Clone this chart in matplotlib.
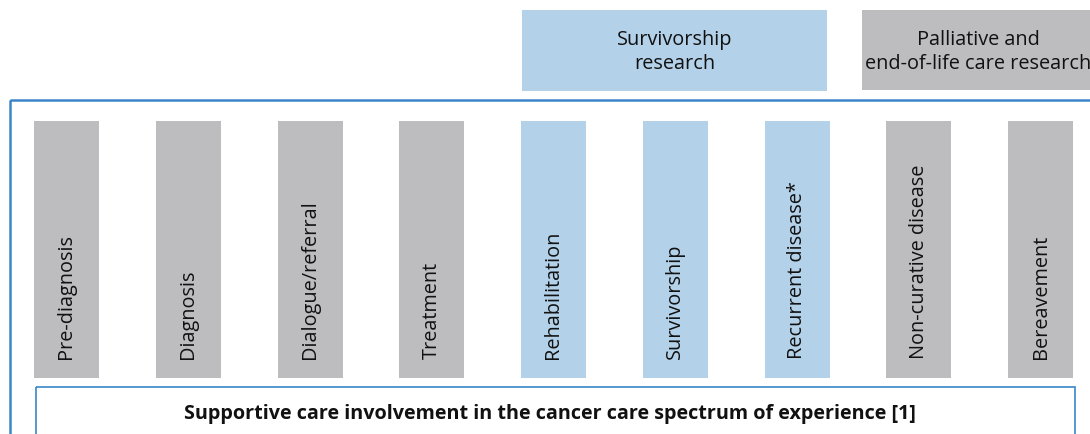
import matplotlib.pyplot as plt
from matplotlib.patches import Rectangle

plt.rcParams['font.family'] = ['Open Sans', 'DejaVu Sans']

# stages of the cancer care spectrum
stages = ['Pre-diagnosis', 'Diagnosis', 'Dialogue/referral', 'Treatment',
          'Rehabilitation', 'Survivorship', 'Recurrent disease*',
          'Non-curative disease', 'Bereavement']
stage_group = ['grey', 'grey', 'grey', 'grey', 'blue', 'blue', 'blue', 'grey', 'grey']
stage_height = [1, 1, 1, 1, 1, 1, 1, 1, 1]

# research areas above the stages
areas = ['Survivorship\nresearch', 'Palliative and\nend-of-life care research']
area_group = ['blue', 'grey']

footer = 'Supportive care involvement in the cancer care spectrum of experience [1]'

colors = {'grey': '#bdbdbf', 'blue': '#b3d1e9'}
frame_blue = '#3a86c8'

W, H = 1090, 435
fig = plt.figure(figsize=(W / 100, H / 100), dpi=100)
ax = fig.add_axes([0, 0, 1, 1])
ax.set_xlim(0, W)
ax.set_ylim(H, 0)
ax.axis('off')

# outer frame
ax.add_patch(Rectangle((10, 101), 1200, 500, fill=False, edgecolor=frame_blue, lw=1.8))

# stage bars (pixel layout: first bar at 34, step 121.75, bar 65 wide, 122..379 high)
x0, step, bw = 34, 121.75, 65
lefts = [x0 + i * step for i in range(len(stages))]
bar_top, bar_h = 122, 257
ax.bar(lefts, [h * bar_h for h in stage_height], width=bw, bottom=bar_top, align='edge',
       color=[colors[g] for g in stage_group])
for left, name in zip(lefts, stages):
    ax.text(left + bw / 2, 359, name, rotation=90, ha='center', va='bottom',
            fontsize=14.3, color='#111111')

# research area boxes
area_x = [522, 862]
area_w = [305, 232]
ax.bar(area_x, [81, 80], width=area_w, bottom=11, align='edge',
       color=[colors[g] for g in area_group])
for x, w, name in zip(area_x, area_w, areas):
    ax.text(x + w / 2, 52, name, ha='center', va='center', fontsize=14.3,
            color='#111111', linespacing=1.22)

# footer box
ax.add_patch(Rectangle((36, 388), 1039, 80, fill=False, edgecolor=frame_blue, lw=1.2))
ax.text(550, 414, footer, ha='center', va='center', fontsize=14.2,
        fontweight='bold', color='#111111')

fig.savefig('out.png', dpi=100)
